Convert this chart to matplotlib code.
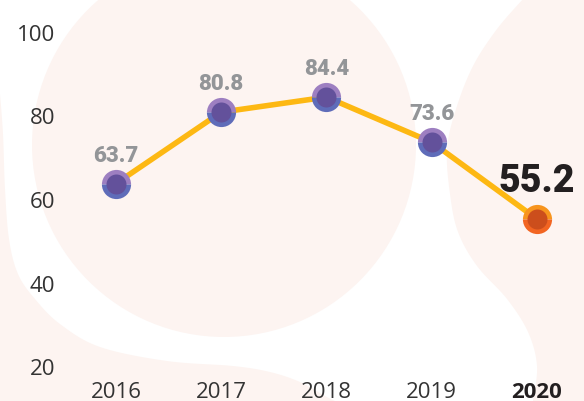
import numpy as np
import matplotlib
matplotlib.use("Agg")
import matplotlib.pyplot as plt
from matplotlib.patches import Circle, Polygon
from matplotlib.transforms import Affine2D

# ---- data ----
years = [2016, 2017, 2018, 2019, 2020]
values = [63.7, 80.8, 84.4, 73.6, 55.2]
value_labels = ["63.7", "80.8", "84.4", "73.6", "55.2"]
ytick_values = [20, 40, 60, 80, 100]
xtick_labels = ["2016", "2017", "2018", "2019", "2020"]

W, H = 584, 402
fig = plt.figure(figsize=(W / 100, H / 100), dpi=100)
fig.patch.set_facecolor("white")

# pixel (from top-left) -> figure transform for decorative background
pix = Affine2D().scale(1 / W, -1 / H).translate(0, 1) + fig.transFigure
PINK = "#fdf4f1"


def smooth(pts, n=12):
    pts = np.asarray(pts, float)
    out = []
    P = np.vstack([pts[0], pts, pts[-1]])
    for i in range(1, len(P) - 2):
        p0, p1, p2, p3 = P[i - 1], P[i], P[i + 1], P[i + 2]
        for t in np.linspace(0, 1, n, endpoint=False):
            t2, t3 = t * t, t * t * t
            out.append(0.5 * ((2 * p1) + (-p0 + p2) * t + (2 * p0 - 5 * p1 + 4 * p2 - p3) * t2
                              + (-p0 + 3 * p1 - 3 * p2 + p3) * t3))
    out.append(pts[-1])
    return np.array(out)


# background blobs
left_curve = [(0, 95), (3, 135), (5, 190), (9, 240), (18, 275), (35, 300), (60, 325),
              (100, 348), (167, 362), (233, 367), (270, 373), (300, 383), (325, 397), (335, 402)]
lc = smooth(left_curve)
lc = np.vstack([lc, [(0, 402)]])
fig.patches.append(Polygon(lc, closed=True, transform=pix, facecolor=PINK, edgecolor="none", zorder=-5))

fig.patches.append(Circle((224, 146), 192, transform=pix, facecolor=PINK, edgecolor="none", zorder=-5))

right_curve = [(523, 0), (497, 30), (473, 67), (456, 110), (447, 150), (450, 195), (458, 233),
               (477, 267), (507, 300), (528, 333), (537, 367), (533, 402)]
rc = smooth(right_curve)
rc = np.vstack([rc, [(584, 402), (584, 0)]])
fig.patches.append(Polygon(rc, closed=True, transform=pix, facecolor=PINK, edgecolor="none", zorder=-5))

# ---- axes ----
ax = fig.add_axes([62 / W, 24 / H, 522 / W, 378 / H])
ax.set_zorder(5)
ax.set_facecolor("none")
ax.patch.set_alpha(0)
ax.set_xlim(2015.487, 2020.447)
ax.set_ylim(17.37, 107.9)
for s in ax.spines.values():
    s.set_visible(False)

ax.set_yticks(ytick_values)
ax.set_yticklabels([str(v) for v in ytick_values])
ax.set_xticks(years)
ax.set_xticklabels(xtick_labels)
ax.tick_params(axis="both", length=0, labelsize=16, labelcolor="#333333")
ax.tick_params(axis="y", pad=5)
ax.tick_params(axis="x", pad=3)
for lab in ax.get_yticklabels() + ax.get_xticklabels():
    lab.set_fontfamily("Open Sans")
xl = ax.get_xticklabels()
xl[-1].set_fontweight("bold")
xl[-1].set_color("#231f20")

# line
ax.plot(years, values, color="#fdb813", lw=4.0, zorder=2, solid_capstyle="round")

# markers
ax.plot(years[:-1], values[:-1], ls="none", marker="o", ms=21, mew=0,
        fillstyle="top", markerfacecolor="#9d7fc1", markerfacecoloralt="#5f6cb9", zorder=3)
ax.plot(years[:-1], values[:-1], ls="none", marker="o", ms=14.4, mew=0,
        markerfacecolor="#63519b", zorder=4)
ax.plot(years[-1:], values[-1:], ls="none", marker="o", ms=21, mew=0,
        fillstyle="top", markerfacecolor="#f7941d", markerfacecoloralt="#f26522", zorder=3)
ax.plot(years[-1:], values[-1:], ls="none", marker="o", ms=14.4, mew=0,
        markerfacecolor="#cc4e1c", zorder=4)

# value labels
for i, (x, y, t) in enumerate(zip(years, values, value_labels)):
    if i == len(years) - 1:
        ax.annotate(t, (x, y), xytext=(0, 20), textcoords="offset points", ha="center",
                    va="baseline", fontsize=27, fontweight="black",
                    color="#231f20", family="Roboto", zorder=5)
    else:
        ax.annotate(t, (x, y), xytext=(0, 16.5), textcoords="offset points", ha="center",
                    va="baseline", fontsize=16, fontweight="black",
                    color="#939598", family="Roboto", zorder=5)

fig.savefig("out.png", dpi=100, facecolor="white")
